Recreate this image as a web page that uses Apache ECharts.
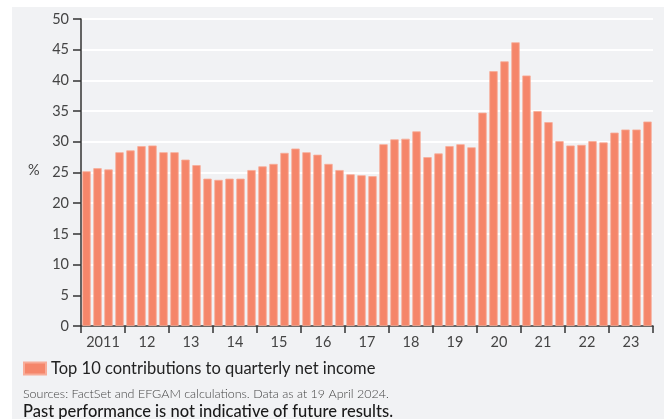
<!DOCTYPE html>
<html><head><meta charset="utf-8">
<script src="https://cdn.jsdelivr.net/npm/echarts@6/dist/echarts.min.js"></script>
<style>html,body{margin:0;padding:0;background:#fff}#c{width:664px;height:419px}</style>
</head><body><div id="c"></div>
<script>
const years = ['2011','12','13','14','15','16','17','18','19','20','21','22','23'];
const quarters = [];
years.forEach(y => { for (let q = 1; q <= 4; q++) quarters.push(y + ' Q' + q); });
const top10Share = [
  25.2, 25.7, 25.5, 28.3,
  28.6, 29.3, 29.4, 28.3,
  28.3, 27.1, 26.2, 24.0,
  23.8, 24.0, 24.0, 25.4,
  26.0, 26.4, 28.2, 28.9,
  28.3, 27.9, 26.4, 25.4,
  24.7, 24.55, 24.4, 29.6,
  30.4, 30.5, 31.7, 27.5,
  28.1, 29.3, 29.6, 29.1,
  34.75, 41.5, 43.1, 46.2,
  40.8, 35.0, 33.2, 30.1,
  29.4, 29.5, 30.1, 29.9,
  31.5, 32.0, 32.0, 33.3
];
const yTicks = { min: 0, max: 50, interval: 5 };
const seriesName = 'Top 10 contributions to quarterly net income';
const sourceText = 'Sources: FactSet and EFGAM calculations. Data as at 19 April 2024.';
const disclaimer = 'Past performance is not indicative of future results.';

const FONT = 'Lato, "Open Sans", "Noto Sans", sans-serif';
const chart = echarts.init(document.getElementById('c'), null, { renderer: 'canvas' });
chart.setOption({
  backgroundColor: '#ffffff',
  animation: false,
  textStyle: { fontFamily: FONT },
  graphic: [
    { type: 'rect', z: -10, silent: true, shape: { x: 12, y: 7, width: 652, height: 412 }, style: { fill: '#f1f2f4' } },
    { type: 'text', left: 28, top: 163, style: { text: '%', fill: '#444', font: '14.5px ' + FONT } },
    { type: 'text', left: 23, top: 387, style: { text: sourceText, fill: '#444', font: '300 12.5px ' + FONT } },
    { type: 'text', left: 23, top: 403, style: { text: disclaimer, fill: '#1a1a1a', font: '500 16.5px ' + FONT } }
  ],
  grid: { left: 81, right: 11, top: 19, bottom: 93, containLabel: false },
  legend: {
    left: 18, top: 355, itemWidth: 22, itemHeight: 12, itemGap: 8,
    icon: 'rect',
    textStyle: { fontSize: 16.5, color: '#222', fontFamily: FONT },
    data: [seriesName]
  },
  xAxis: [
    { type: 'category', data: quarters, show: false, boundaryGap: true },
    {
      type: 'category', data: years, position: 'bottom', boundaryGap: true,
      axisLine: { show: true, lineStyle: { color: '#333', width: 1.5 } },
      axisTick: { show: true, length: 7, alignWithLabel: false, lineStyle: { color: '#333', width: 1.5 } },
      axisLabel: { color: '#444', fontSize: 14.5, margin: 9, fontFamily: FONT }
    }
  ],
  yAxis: {
    type: 'value', min: yTicks.min, max: yTicks.max, interval: yTicks.interval,
    axisLine: { show: true, lineStyle: { color: '#333', width: 1.5 } },
    axisTick: { show: true, length: 8, lineStyle: { color: '#333', width: 1.5 } },
    axisLabel: { color: '#444', fontSize: 14.5, margin: 12, fontFamily: FONT },
    splitLine: { show: true, lineStyle: { color: '#ffffff', width: 2 } }
  },
  series: [{
    name: seriesName, type: 'bar', xAxisIndex: 0, data: top10Share,
    barCategoryGap: '24%',
    itemStyle: { color: '#f5866a', borderColor: '#f8ac98', borderWidth: 0.8 }
  }]
});
</script></body></html>
